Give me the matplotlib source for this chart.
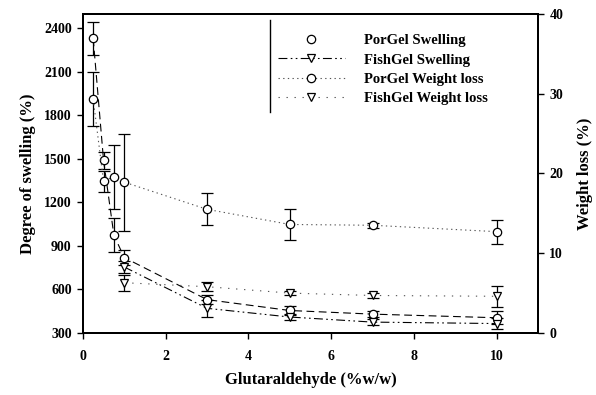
import matplotlib
matplotlib.use("Agg")
import matplotlib.pyplot as plt
from matplotlib.lines import Line2D

plt.rcParams['font.family'] = ['Liberation Serif', 'DejaVu Serif']
plt.rcParams['font.weight'] = 'bold'

# ---- data ----
x_por = [0.25, 0.5, 0.75, 1, 3, 5, 7, 10]
por_swelling = [2330, 1490, 975, 820, 530, 455, 430, 405]
por_swelling_err = [115, 60, 120, 50, 30, 30, 20, 45]
por_weightloss = [29.3, 19.0, 19.6, 18.9, 15.5, 13.6, 13.5, 12.7]
por_weightloss_err = [3.4, 1.3, 4.0, 6.1, 2.0, 1.9, 0.3, 1.5]

x_fish = [1, 3, 5, 7, 10]
fish_swelling = [755, 470, 410, 375, 365]
fish_swelling_err = [40, 60, 20, 20, 35]
fish_weightloss = [6.3, 5.8, 5.0, 4.7, 4.6]
fish_weightloss_err = [1.0, 0.6, 0.2, 0.3, 1.3]

labels = ["PorGel Swelling", "FishGel Swelling", "PorGel Weight loss", "FishGel Weight loss"]
x_ticks = [0, 2, 4, 6, 8, 10]
left_ticks = [300, 600, 900, 1200, 1500, 1800, 2100, 2400]
right_ticks = [0, 10, 20, 30, 40]

fig = plt.figure(figsize=(5.96, 3.95), dpi=100)
ax = fig.add_axes([0.139, 0.157, 0.764, 0.808])
ax2 = ax.twinx()

ls_por_sw = (0, (7, 4))
ls_fish_sw = (0, (8, 3, 1.5, 3, 1.5, 3))
ls_por_wl = (0, (1.2, 3))
ls_fish_wl = (0, (1.2, 6))

mk = dict(markersize=6, markerfacecolor='white', markeredgecolor='black', markeredgewidth=0.9)
eb = dict(ecolor='black', elinewidth=0.9, capsize=4, capthick=0.9)

ax.errorbar(x_por, por_swelling, yerr=por_swelling_err, color='black', lw=0.8,
            linestyle=ls_por_sw, marker='o', **mk, **eb)
ax.errorbar(x_fish, fish_swelling, yerr=fish_swelling_err, color='black', lw=0.8,
            linestyle=ls_fish_sw, marker='v', **mk, **eb)
ax2.errorbar(x_por, por_weightloss, yerr=por_weightloss_err, color='#555555', lw=0.8,
             linestyle=ls_por_wl, marker='o', **mk, **eb)
ax2.errorbar(x_fish, fish_weightloss, yerr=fish_weightloss_err, color='#555555', lw=0.8,
             linestyle=ls_fish_wl, marker='v', **mk, **eb)

ax.set_xlim(0, 11)
ax.set_ylim(300, 2500)
ax2.set_ylim(0, 40)
ax.set_xticks(x_ticks)
ax.set_yticks(left_ticks)
ax2.set_yticks(right_ticks)

for a in (ax, ax2):
    for s in a.spines.values():
        s.set_linewidth(1.4)
    a.tick_params(direction='out', length=4, width=1, labelsize=10, pad=4)
ax.tick_params(axis='x', pad=8)
ax.tick_params(top=False)

ax.set_xlabel("Glutaraldehyde (%w/w)", fontsize=12, fontweight='bold', labelpad=7)
ax.set_ylabel("Degree of swelling (%)", fontsize=12, fontweight='bold', labelpad=6)
ax2.set_ylabel("Weight loss (%)", fontsize=12, fontweight='bold', labelpad=10)

# legend with proxy handles
handles = [
    Line2D([], [], color='black', lw=0.8, linestyle='none', marker='o', **mk),
    Line2D([], [], color='black', lw=0.8, linestyle=ls_fish_sw, marker='v', **mk),
    Line2D([], [], color='#555555', lw=0.8, linestyle=ls_por_wl, marker='o', **mk),
    Line2D([], [], color='#555555', lw=0.8, linestyle=ls_fish_wl, marker='v', **mk),
]
leg = ax2.legend(handles, labels, loc='upper left', bbox_to_anchor=(0.415, 0.955),
                 frameon=False, fontsize=10.5, handlelength=4.6, handletextpad=1.3,
                 labelspacing=0.42, borderaxespad=0)
ax2.plot([0.411, 0.411], [0.693, 0.98], transform=ax2.transAxes, color='black', lw=1.0)

fig.savefig("out.png", dpi=100)
